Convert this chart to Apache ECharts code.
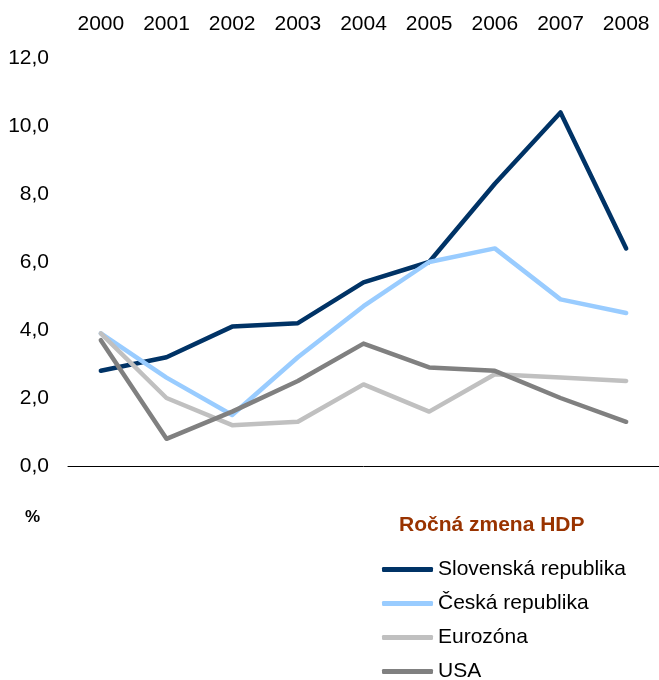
<!DOCTYPE html>
<html>
<head>
<meta charset="utf-8">
<script src="https://cdn.jsdelivr.net/npm/echarts@6/dist/echarts.min.js"></script>
<style>
html,body{margin:0;padding:0;background:#fff;}
#c{width:659px;height:680px;}
</style>
</head>
<body>
<div id="c"></div>
<script>
var years = ['2000','2001','2002','2003','2004','2005','2006','2007','2008'];
var slovensko = [2.8, 3.2, 4.1, 4.2, 5.4, 6.0, 8.3, 10.4, 6.4];
var cesko = [3.9, 2.6, 1.5, 3.2, 4.7, 6.0, 6.4, 4.9, 4.5];
var eurozona = [3.9, 2.0, 1.2, 1.3, 2.4, 1.6, 2.7, 2.6, 2.5];
var usa = [3.7, 0.8, 1.6, 2.5, 3.6, 2.9, 2.8, 2.0, 1.3];
var seriesNames = ['Slovenská republika', 'Česká republika', 'Eurozóna', 'USA'];
var colors = ['#003366', '#99CCFF', '#C0C0C0', '#808080'];
var values = [slovensko, cesko, eurozona, usa];

var font = '"Liberation Sans", Arial, sans-serif';
var chart = echarts.init(document.getElementById('c'));
chart.setOption({
  animation: false,
  backgroundColor: '#fff',
  textStyle: {fontFamily: font},
  title: [
    {text: 'Ročná zmena HDP', left: 394, top: 510,
     textStyle: {fontFamily: font, fontSize: 21, fontWeight: 'bold', color: '#993300'}},
    {text: '%', left: 20, top: 504,
     textStyle: {fontFamily: font, fontSize: 17, fontWeight: 'bold', color: '#000'}}
  ],
  legend: {
    orient: 'vertical', left: 382, top: 559, itemGap: 13, padding: 0, height: 130,
    itemWidth: 51, itemHeight: 5, icon: 'roundRect',
    data: seriesNames,
    textStyle: {fontFamily: font, fontSize: 21, color: '#000', padding: [0,0,0,0]}
  },
  grid: {left: 68, top: 58, width: 596, height: 408, containLabel: false},
  xAxis: [
    {type: 'category', data: years, position: 'top', boundaryGap: true,
     axisLine: {show: false}, axisTick: {show: false}, splitLine: {show: false},
     axisLabel: {fontFamily: font, fontSize: 21, color: '#000', margin: 23}},
    {type: 'category', data: years, position: 'bottom', boundaryGap: true,
     axisLine: {show: true, lineStyle: {color: '#000', width: 1}},
     axisTick: {show: false}, axisLabel: {show: false}, splitLine: {show: false}}
  ],
  yAxis: {
    type: 'value', min: 0, max: 12, interval: 2,
    axisLine: {show: false}, axisTick: {show: false}, splitLine: {show: false},
    axisLabel: {fontFamily: font, fontSize: 21, color: '#000', margin: 19,
      formatter: function (v) { return v.toFixed(1).replace('.', ','); }}
  },
  series: seriesNames.map(function (n, i) {
    return {
      name: n, type: 'line', data: values[i], xAxisIndex: 0,
      showSymbol: false, symbol: 'none',
      lineStyle: {color: colors[i], width: 4.5, cap: 'round', join: 'round'},
      itemStyle: {color: colors[i]}
    };
  })
});
</script>
</body>
</html>
